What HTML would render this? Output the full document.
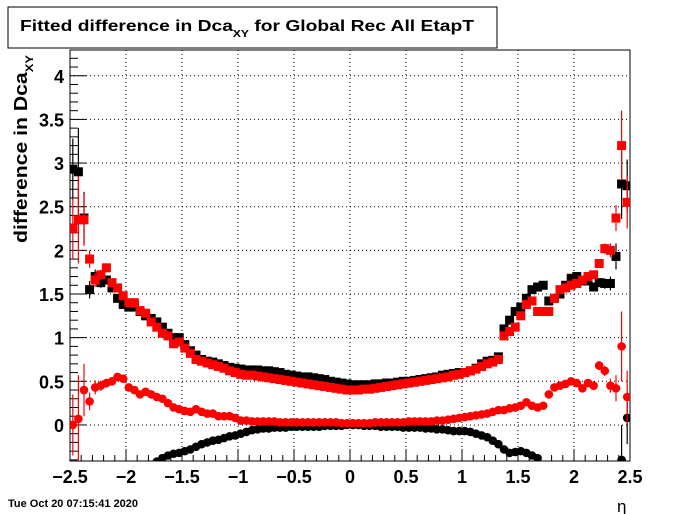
<!DOCTYPE html>
<html><head><meta charset="utf-8"><style>
body{margin:0;background:#fff}
svg{display:block;font-family:"Liberation Sans",sans-serif}
</style></head><body>
<svg id="c" width="700" height="514" xmlns="http://www.w3.org/2000/svg">
<rect x="8" y="7" width="489" height="41" fill="#fff" stroke="#000"/>
<text x="20" y="31" font-size="16" font-weight="bold" textLength="454" lengthAdjust="spacingAndGlyphs">Fitted difference in Dca<tspan font-size="10" dy="6">XY</tspan><tspan dy="-6"> for Global Rec All EtapT</tspan></text>
<text transform="translate(27,243) rotate(-90)" font-size="18" font-weight="bold" textLength="188" lengthAdjust="spacingAndGlyphs">difference in Dca<tspan font-size="11" dy="6">XY</tspan></text>
<text x="617" y="512" font-size="17">η</text>
<text x="8" y="507" font-size="11" font-weight="bold">Tue Oct 20 07:15:41 2020</text>
<g id="grid"></g><g id="axes"></g><g id="marks"></g>
</svg>
<script>
const blackSq=[2.93,2.9,2.37,1.55,1.7,1.63,1.66,1.57,1.45,1.38,1.35,1.35,1.3,1.25,1.22,1.18,1.12,1.05,1.0,1.0,0.92,0.85,0.8,0.75,0.73,0.72,0.7,0.68,0.66,0.65,0.64,0.63,0.63,0.63,
0.62,0.62,0.61,0.6,0.58,0.57,0.56,0.55,0.55,0.54,0.53,0.52,0.5,0.49,0.48,0.47,0.46,0.46,0.46,0.46,0.47,0.47,0.48,0.48,0.49,0.5,0.5,0.51,0.52,0.53,0.54,0.55,
0.57,0.58,0.59,0.6,0.6,0.62,0.65,0.7,0.73,0.74,0.78,1.1,1.2,1.3,1.35,1.45,1.55,1.58,1.6,1.42,1.45,1.5,1.6,1.68,1.7,1.65,1.65,1.58,1.63,1.62,1.62,1.93,2.76,2.74];
const redSq=[2.25,2.35,2.35,1.9,1.66,1.72,1.8,1.63,1.57,1.48,1.4,1.4,1.31,1.28,1.18,1.12,1.05,1.02,0.93,0.95,0.88,0.82,0.75,0.73,0.71,0.69,0.67,0.65,0.62,0.6,0.58,0.57,0.57,0.56,
0.55,0.54,0.53,0.52,0.51,0.5,0.49,0.48,0.47,0.46,0.45,0.44,0.43,0.42,0.41,0.4,0.4,0.4,0.41,0.41,0.42,0.43,0.44,0.45,0.46,0.47,0.48,0.49,0.5,0.51,0.52,0.53,
0.54,0.55,0.57,0.58,0.6,0.62,0.64,0.67,0.7,0.72,0.75,1.02,1.07,1.12,1.25,1.38,1.42,1.3,1.3,1.3,1.45,1.55,1.57,1.6,1.62,1.66,1.7,1.72,1.85,2.02,2.0,2.37,3.2,2.55];
const redCirc=[0.0,0.07,0.4,0.27,0.43,0.45,0.48,0.5,0.55,0.53,0.43,0.4,0.35,0.38,0.35,0.32,0.3,0.25,0.2,0.18,0.16,0.15,0.18,0.15,0.13,0.13,0.1,0.1,0.1,0.08,0.05,0.05,0.04,0.04,
0.04,0.04,0.04,0.03,0.03,0.03,0.03,0.03,0.03,0.03,0.03,0.03,0.03,0.03,0.02,0.02,0.02,0.02,0.02,0.02,0.03,0.03,0.03,0.03,0.03,0.03,0.04,0.04,0.04,0.04,0.04,0.05,
0.05,0.06,0.07,0.08,0.09,0.1,0.11,0.12,0.13,0.15,0.17,0.17,0.19,0.2,0.22,0.26,0.22,0.2,0.22,0.35,0.43,0.45,0.47,0.5,0.48,0.42,0.48,0.45,0.68,0.62,0.45,0.42,0.9,0.32];
const blackCirc=[null,null,null,null,null,null,null,null,null,null,null,null,null,null,null,-0.42,-0.38,-0.35,-0.33,-0.32,-0.3,-0.28,-0.25,-0.22,-0.2,-0.18,-0.17,-0.15,-0.13,-0.12,-0.1,-0.08,-0.06,-0.05,
-0.04,-0.04,-0.03,-0.03,-0.03,-0.02,-0.02,-0.02,-0.02,-0.02,-0.02,-0.01,-0.01,-0.01,-0.01,0,0,0,-0.01,-0.01,-0.01,-0.02,-0.02,-0.02,-0.02,-0.03,-0.03,-0.03,-0.03,-0.04,-0.04,-0.05,
-0.05,-0.06,-0.07,-0.07,-0.07,-0.08,-0.1,-0.12,-0.14,-0.18,-0.22,-0.28,-0.32,-0.31,-0.3,-0.32,-0.35,-0.38,null,null,null,null,null,null,null,null,null,null,null,null,null,null,-0.4,0.08];
const errSq=[0.35,0.5,0.3,0.1,0.08,0.06,0.05,0.05,0.04,0.03];
const errSqR=[0.05,0.05,0.06,0.08,0.15,0.4,0.3];
const xTicks=[-2.5,-2,-1.5,-1,-0.5,0,0.5,1,1.5,2,2.5];
const xTickLabels=["−2.5","−2","−1.5","−1","−0.5","0","0.5","1","1.5","2","2.5"];
const yTicks=[0,0.5,1,1.5,2,2.5,3,3.5,4];
const yTickLabels=["0","0.5","1","1.5","2","2.5","3","3.5","4"];
const X0=70,X1=630,Y0=461,Y1=50,xmin=-2.5,xmax=2.5,ymin=-0.413,ymax=4.295;
const sx=v=>X0+(v-xmin)/(xmax-xmin)*(X1-X0);
const sy=v=>Y0-(v-ymin)/(ymax-ymin)*(Y0-Y1);
const NS="http://www.w3.org/2000/svg";
function mk(t,a,p){const e=document.createElementNS(NS,t);for(const k in a)e.setAttribute(k,a[k]);p.appendChild(e);return e;}
const grid=document.getElementById('grid'),axes=document.getElementById('axes'),marks=document.getElementById('marks');
xTicks.forEach((t,i)=>{
 const g=mk('line',{x1:sx(t),x2:sx(t),y1:Y1,y2:Y0,stroke:'#000','stroke-dasharray':'1,3','stroke-width':1},grid);
 
 
 const l=mk('text',{x:sx(t),y:483,'font-size':18,'font-weight':'bold','text-anchor':'middle'},axes);l.textContent=xTickLabels[i];
 
 
});
yTicks.forEach((t,i)=>{
 const g=mk('line',{x1:X0,x2:X1,y1:sy(t),y2:sy(t),stroke:'#000','stroke-dasharray':'1,3','stroke-width':1},grid);
 
 
 const l=mk('text',{x:64,y:sy(t)+7,'font-size':18,'font-weight':'bold','text-anchor':'end'},axes);l.textContent=yTickLabels[i];
 
 
});
const fr=mk('rect',{x:X0,y:Y1,width:X1-X0,height:Y0-Y1,fill:'none',stroke:'#000'},axes);


for(let v=-2.5;v<=2.501;v+=0.1){const big=Math.abs(v*2-Math.round(v*2))<0.01;mk('line',{x1:sx(v),x2:sx(v),y1:Y0,y2:Y0-(big?12:6),stroke:'#000'},axes);}
for(let v=-0.4;v<=4.25;v+=0.1){const big=Math.abs(v*2-Math.round(v*2))<0.01;mk('line',{x1:X0,x2:X0+(big?16:8),y1:sy(v),y2:sy(v),stroke:'#000'},axes);}
const clip=mk('clipPath',{id:'pc'},marks);mk('rect',{x:X0,y:Y1,width:X1-X0,height:Y0-Y1},clip);
const mg=mk('g',{'clip-path':'url(#pc)'},marks);
function err(i,v){if(i<errSq.length)return errSq[i];const j=i-(100-errSqR.length);if(j>=0)return errSqR[j];return 0.02;}
function series(arr,color,shape,name){
 const g=mk('g',{},mg);
 
 
 arr.forEach((v,i)=>{
  if(v===null)return;
  const c=-2.475+i*0.05,x=sx(c),y=sy(v),e=err(i,v);
  mk('line',{x1:x,x2:x,y1:sy(v-e),y2:sy(v+e),stroke:color,'stroke-width':1.2},g);
  mk('line',{x1:sx(c-0.025),x2:sx(c+0.025),y1:y,y2:y,stroke:color,'stroke-width':1},g);
  let m;
  if(shape==='sq')m=mk('rect',{x:x-4.5,y:y-4.5,width:9,height:9,fill:color},g);
  else m=mk('circle',{cx:x,cy:y,r:4.3,fill:color},g);
  
  
 });
}
series(blackCirc,'#000','c','black-circle-series');
series(blackSq,'#000','sq','black-square-series');
series(redCirc,'#f00','c','red-circle-series');
series(redSq,'#f00','sq','red-square-series');
</script>
</body></html>
